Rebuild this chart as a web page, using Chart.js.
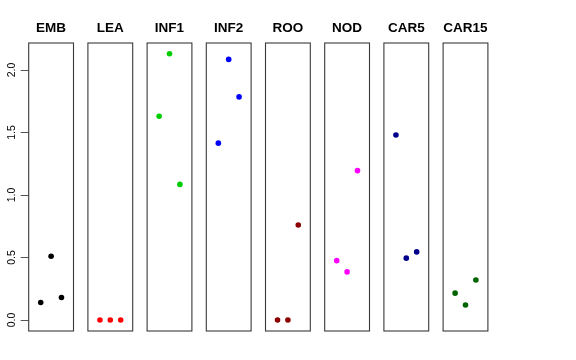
<!DOCTYPE html>
<html>
<head>
<meta charset="utf-8">
<script src="https://cdn.jsdelivr.net/npm/chart.js@4/dist/chart.umd.min.js"></script>
<style>
  html, body { margin: 0; padding: 0; background: #ffffff; }
  #wrap { position: relative; width: 576px; height: 360px; background: #ffffff; overflow: hidden; }
  canvas { position: absolute; top: 0; }
</style>
</head>
<body>
<div id="wrap"></div>
<script>
// ---- data ----
const panels = ['EMB', 'LEA', 'INF1', 'INF2', 'ROO', 'NOD', 'CAR5', 'CAR15'];
const colors = ['#000000', '#FF0000', '#00CD00', '#0000FF', '#8B0000', '#FF00FF', '#00008B', '#006400'];
const positions = [1, 2, 3];
const EMB   = [0.14, 0.51, 0.18];
const LEA   = [0.00, 0.00, 0.00];
const INF1  = [1.63, 2.13, 1.085];
const INF2  = [1.415, 2.085, 1.785];
const ROO   = [0.00, 0.00, 0.76];
const NOD   = [0.475, 0.385, 1.195];
const CAR5  = [1.48, 0.495, 0.545];
const CAR15 = [0.215, 0.12, 0.32];
const seriesValues = [EMB, LEA, INF1, INF2, ROO, NOD, CAR5, CAR15];
const yTicks = [0, 0.5, 1, 1.5, 2];

// ---- layout ----
const panelLeft0 = 28.7, panelStep = 59.2, panelWidth = 44.8;
const yAxisWidth = 28.7;

const boxPlugin = {
  id: 'panelBox',
  afterDraw(chart) {
    const a = chart.chartArea, ctx = chart.ctx;
    ctx.save();
    ctx.strokeStyle = '#3a3a3a';
    ctx.lineWidth = 1.1;
    ctx.strokeRect(a.left, a.top, a.right - a.left, a.bottom - a.top);
    ctx.restore();
  }
};

const wrap = document.getElementById('wrap');
panels.forEach((name, i) => {
  const first = i === 0;
  const boxLeft = panelLeft0 + panelStep * i;
  const canvasLeft = first ? 0 : Math.floor(boxLeft) - 7;
  const padLeft = first ? 0 : boxLeft - canvasLeft;
  const canvasWidth = 80;
  const padRight = canvasWidth - (first ? yAxisWidth : padLeft) - panelWidth;
  const cv = document.createElement('canvas');
  cv.width = canvasWidth;
  cv.height = 360;
  cv.style.left = canvasLeft + 'px';
  wrap.appendChild(cv);

  new Chart(cv, {
    type: 'scatter',
    data: {
      datasets: [{
        data: positions.map((x, j) => ({ x: x, y: seriesValues[i][j] })),
        backgroundColor: colors[i],
        borderWidth: 0,
        pointRadius: 2.8,
        pointHoverRadius: 2.8
      }]
    },
    options: {
      responsive: false,
      animation: false,
      devicePixelRatio: 1,
      layout: { padding: { top: 0, bottom: 29, left: padLeft, right: padRight } },
      plugins: {
        legend: { display: false },
        tooltip: { enabled: false },
        title: {
          display: true,
          text: name,
          fullSize: false,
          color: '#000000',
          font: { family: 'Liberation Sans', weight: 'bold', size: 13.5, lineHeight: 1.2 },
          padding: { top: 20.5, bottom: 6.3 }
        }
      },
      scales: {
        x: { type: 'linear', min: -0.16, max: 4.16, display: false },
        y: {
          type: 'linear',
          position: 'left',
          min: -0.088,
          max: 2.216,
          display: first,
          afterBuildTicks: (s) => { s.ticks = yTicks.map(v => ({ value: v })); },
          afterFit: (s) => { s.width = first ? yAxisWidth : 0; },
          border: { display: false },
          grid: { drawOnChartArea: false, drawTicks: true, tickLength: 8, tickColor: '#555555', tickWidth: 1 },
          ticks: {
            minRotation: 90,
            maxRotation: 90,
            crossAlign: 'center',
            padding: 1,
            color: '#000000',
            font: { family: 'Liberation Sans', size: 10.5 },
            callback: (v) => Number(v).toFixed(1)
          }
        }
      }
    },
    plugins: [boxPlugin]
  });
});
</script>
</body>
</html>
